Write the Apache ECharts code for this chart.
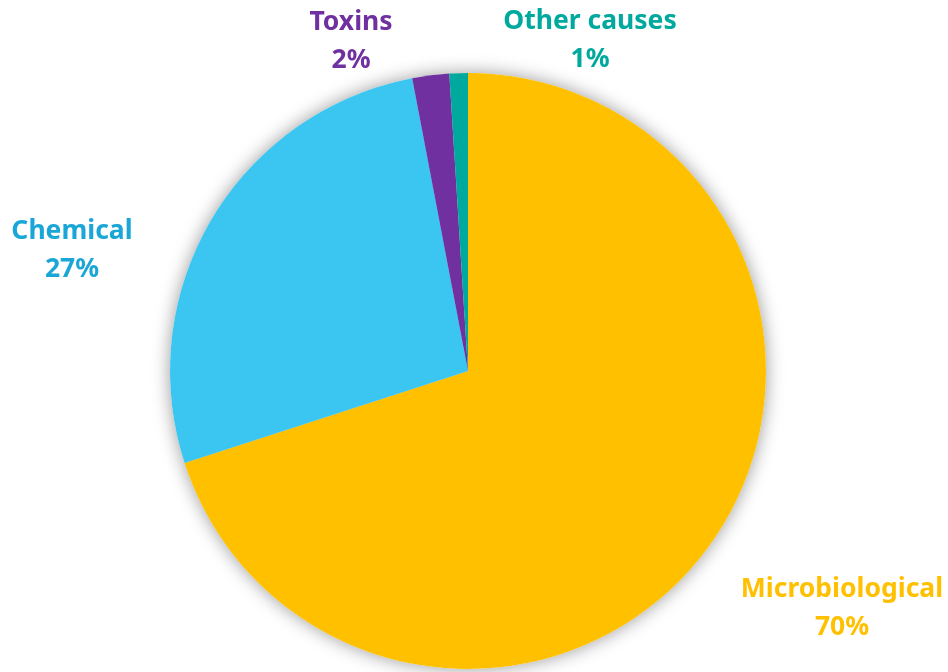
<!DOCTYPE html>
<html>
<head>
<meta charset="utf-8">
<script src="https://cdn.jsdelivr.net/npm/echarts@6/dist/echarts.min.js"></script>
<style>
  html, body { margin: 0; padding: 0; background: #ffffff; }
  #chart { width: 948px; height: 672px; }
</style>
</head>
<body>
<div id="chart"></div>
<script>
// Causes of incidents, share in percent
const categories = ['Microbiological', 'Chemical', 'Toxins', 'Other causes'];
const shares = [70, 27, 2, 1];

const sliceColors = ['#FFC000', '#3BC6F2', '#7030A0', '#00A99D'];
const labelColors = ['#FFC000', '#1AA6D6', '#7030A0', '#00A99D'];
// Label block centres (x, y) for each category
const labelSpots = [[842, 608], [72, 250], [351, 41], [590, 40]];

const data = categories.map((name, i) => ({
  name,
  value: shares[i],
  itemStyle: { color: sliceColors[i] },
  label: { color: labelColors[i] }
}));

const chart = echarts.init(document.getElementById('chart'), null, { renderer: 'canvas' });
chart.setOption({
  animation: false,
  backgroundColor: '#ffffff',
  series: [
    {
      // soft drop shadow under the whole pie
      type: 'pie',
      silent: true,
      z: 1,
      center: [468, 371],
      radius: 298,
      label: { show: false },
      labelLine: { show: false },
      itemStyle: {
        color: '#ffffff',
        shadowBlur: 18,
        shadowColor: 'rgba(0,0,0,0.4)',
        shadowOffsetX: 0,
        shadowOffsetY: 0
      },
      data: categories.map((name, i) => ({ name, value: shares[i] }))
    },
    {
      type: 'pie',
      z: 2,
      center: [468, 371],
      radius: 298,
      startAngle: 90,
      clockwise: true,
      itemStyle: { borderWidth: 0 },
      emphasis: { disabled: true },
      labelLine: { show: false },
      label: {
        show: true,
        position: 'outside',
        overflow: 'none',
        width: 260,
        fontFamily: 'Noto Sans',
        fontWeight: 'bold',
        fontSize: 26.5,
        lineHeight: 38,
        align: 'center',
        verticalAlign: 'middle',
        formatter: p => p.name + '\n' + p.value + '%'
      },
      labelLayout: p => ({
        x: labelSpots[p.dataIndex][0],
        y: labelSpots[p.dataIndex][1],
        align: 'center',
        verticalAlign: 'middle'
      }),
      data
    }
  ]
});
</script>
</body>
</html>
